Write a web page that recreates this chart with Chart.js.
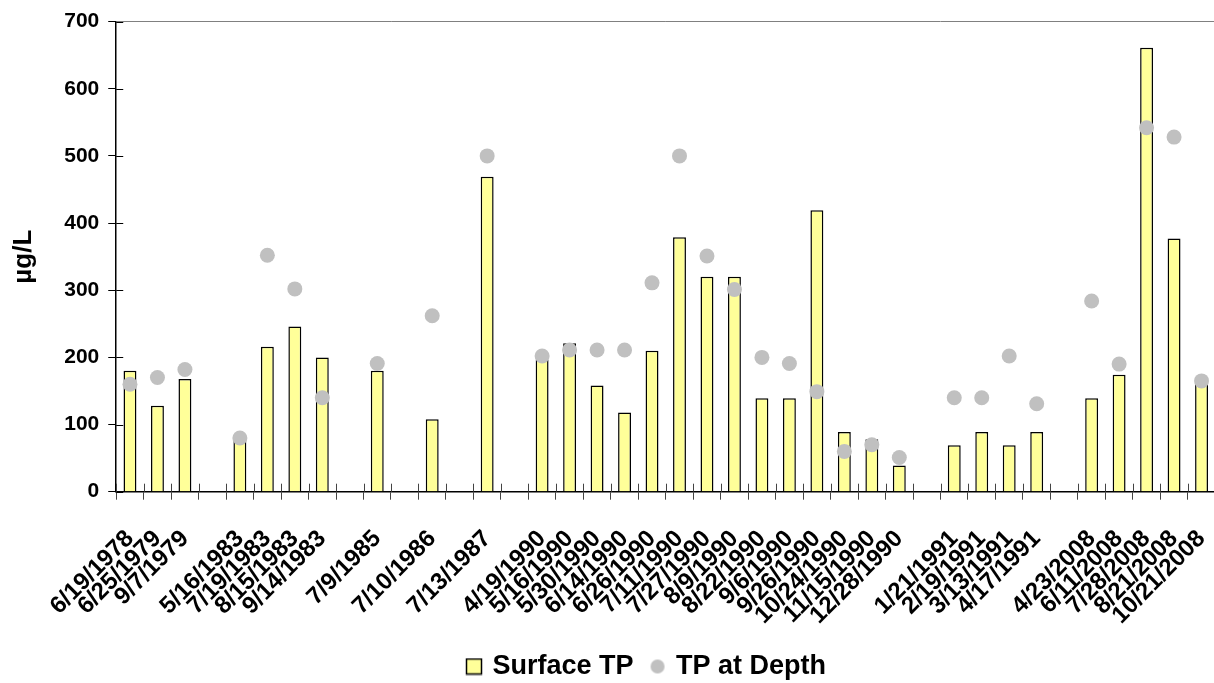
<!DOCTYPE html>
<html>
<head>
<meta charset="utf-8">
<script src="https://cdn.jsdelivr.net/npm/chart.js@4.4.0/dist/chart.umd.min.js"></script>
<style>
  html, body { margin: 0; padding: 0; background: #ffffff; overflow: hidden; }
  #wrap { width: 1247px; height: 690px; }
</style>
</head>
<body>
<div id="wrap"><canvas id="tpChart"></canvas></div>
<script>
// sample dates (blank entries are the gaps between sampling years)
var sampleDates = [
    '6/19/1978', '6/25/1979', '9/7/1979', '',
    '5/16/1983', '7/19/1983', '8/15/1983', '9/14/1983', '',
    '7/9/1985', '', '7/10/1986', '', '7/13/1987', '',
    '4/19/1990', '5/16/1990', '5/30/1990', '6/14/1990', '6/26/1990', '7/11/1990',
    '7/27/1990', '8/9/1990', '8/22/1990', '9/6/1990', '9/26/1990', '10/24/1990',
    '11/15/1990', '12/28/1990', '',
    '1/21/1991', '2/19/1991', '3/13/1991', '4/17/1991', '',
    '4/23/2008', '6/11/2008', '7/28/2008', '8/21/2008', '10/21/2008'
];

// µg/L
var surfaceTP = [
    180, 128, 168, null,
    80, 216, 246, 200, null,
    180, null, 108, null, 469, null,
    197, 221, 158, 118, 210, 379,
    320, 320, 139, 139, 419, 89,
    78, 39, null,
    69, 89, 69, 89, null,
    139, 174, 661, 377, 161
];

var depthTP = [
    160, 170, 182, null,
    80, 352, 302, 140, null,
    191, null, 262, null, 500, null,
    202, 211, 211, 211, 311, 500,
    351, 301, 200, 191, 149, 60,
    70, 51, null,
    140, 140, 202, 131, null,
    284, 190, 542, 528, 165
];

var yTicks = [0, 100, 200, 300, 400, 500, 600, 700];

Chart.defaults.font.family = '"Liberation Sans", Arial, sans-serif';
Chart.defaults.font.weight = 'bold';
Chart.defaults.color = '#000000';

// legend icons
function makeIcon(kind) {
    var c = document.createElement('canvas');
    c.width = 18; c.height = 18;
    var g = c.getContext('2d');
    if (kind === 'box') {
        g.fillStyle = '#ffff99';
        g.fillRect(1, 1, 16, 16);
        g.strokeStyle = '#000000';
        g.lineWidth = 1.5;
        g.strokeRect(1.5, 1.5, 15, 15);
    } else {
        g.fillStyle = '#c0c0c0';
        g.beginPath();
        g.arc(9, 9, 7, 0, Math.PI * 2);
        g.fill();
    }
    return c;
}
var legendIcons = [makeIcon('box'), makeIcon('dot')];

// tick marks that cross the axis lines
var crossTicks = {
    id: 'crossTicks',
    afterLayout: function (chart) {
        // legend sits a bit right of centre in the original
        chart.legend.left += 24;
        chart.legend.right += 24;
    },
    afterDraw: function (chart) {
        var ctx = chart.ctx;
        var x = chart.scales.x, y = chart.scales.y;
        ctx.save();
        ctx.strokeStyle = '#000000';
        ctx.lineWidth = 1;
        y.ticks.forEach(function (t, i) {
            var py = Math.round(y.getPixelForTick(i)) + 0.5;
            ctx.beginPath();
            ctx.moveTo(y.right, py);
            ctx.lineTo(y.right + 7, py);
            ctx.stroke();
        });
        ctx.strokeStyle = '#444444';
        for (var i = 0; i <= sampleDates.length; i++) {
            var px = Math.round(x.getPixelForValue(i - 0.5)) + 0.5;
            ctx.beginPath();
            ctx.moveTo(px, x.top - 8);
            ctx.lineTo(px, x.top);
            ctx.stroke();
        }
        ctx.restore();
    }
};

var ctx = document.getElementById('tpChart').getContext('2d');
var tpChart = new Chart(ctx, {
    type: 'bar',
    data: {
        labels: sampleDates,
        datasets: [{
            label: 'Surface TP',
            data: surfaceTP,
            backgroundColor: '#ffff99',
            borderColor: '#000000',
            borderWidth: 1.5,
            barPercentage: 0.47,
            categoryPercentage: 1.0,
            order: 2
        }, {
            type: 'line',
            label: 'TP at Depth',
            data: depthTP,
            showLine: false,
            pointRadius: 7.5,
            pointHoverRadius: 7.5,
            pointBackgroundColor: '#c0c0c0',
            pointBorderWidth: 0,
            borderColor: '#c0c0c0',
            order: 1
        }]
    },
    options: {
        responsive: true,
        maintainAspectRatio: false,
        animation: false,
        layout: { padding: { top: 1, right: 0, left: 0, bottom: 0 } },
        scales: {
            x: {
                afterFit: function (scale) { scale.height -= 21; },
                grid: {
                    offset: true,
                    drawOnChartArea: false,
                    tickLength: 8,
                    tickColor: '#444444'
                },
                border: { color: '#000000', width: 1.5 },
                ticks: {
                    autoSkip: false,
                    minRotation: 45,
                    maxRotation: 45,
                    padding: 25,
                    font: { size: 24, weight: 'bold' }
                }
            },
            y: {
                min: 0,
                max: 700,
                afterBuildTicks: function (scale) {
                    scale.ticks = yTicks.map(function (v) { return { value: v }; });
                },
                grid: {
                    drawOnChartArea: true,
                    color: function (c) { return c.tick && c.tick.value === 700 ? '#808080' : 'rgba(0,0,0,0)'; },
                    tickLength: 8,
                    tickColor: '#000000'
                },
                border: { color: '#000000', width: 1.5 },
                ticks: {
                    padding: 9,
                    font: { size: 21, weight: 'bold' }
                },
                title: {
                    display: true,
                    text: 'µg/L',
                    padding: { top: 8, bottom: 16 },
                    font: { size: 26, weight: 'bold' }
                }
            }
        },
        plugins: {
            legend: {
                position: 'bottom',
                labels: {
                    usePointStyle: true,
                    boxWidth: 10,
                    boxHeight: 18,
                    padding: 19,
                    font: { size: 27, weight: 'bold' },
                    sort: function (a, b) { return a.datasetIndex - b.datasetIndex; },
                    generateLabels: function (chart) {
                        var items = Chart.defaults.plugins.legend.labels.generateLabels(chart);
                        items.forEach(function (it) { it.pointStyle = legendIcons[it.datasetIndex]; });
                        return items;
                    }
                }
            },
            tooltip: { enabled: false }
        }
    },
    plugins: [crossTicks]
});
</script>
</body>
</html>
